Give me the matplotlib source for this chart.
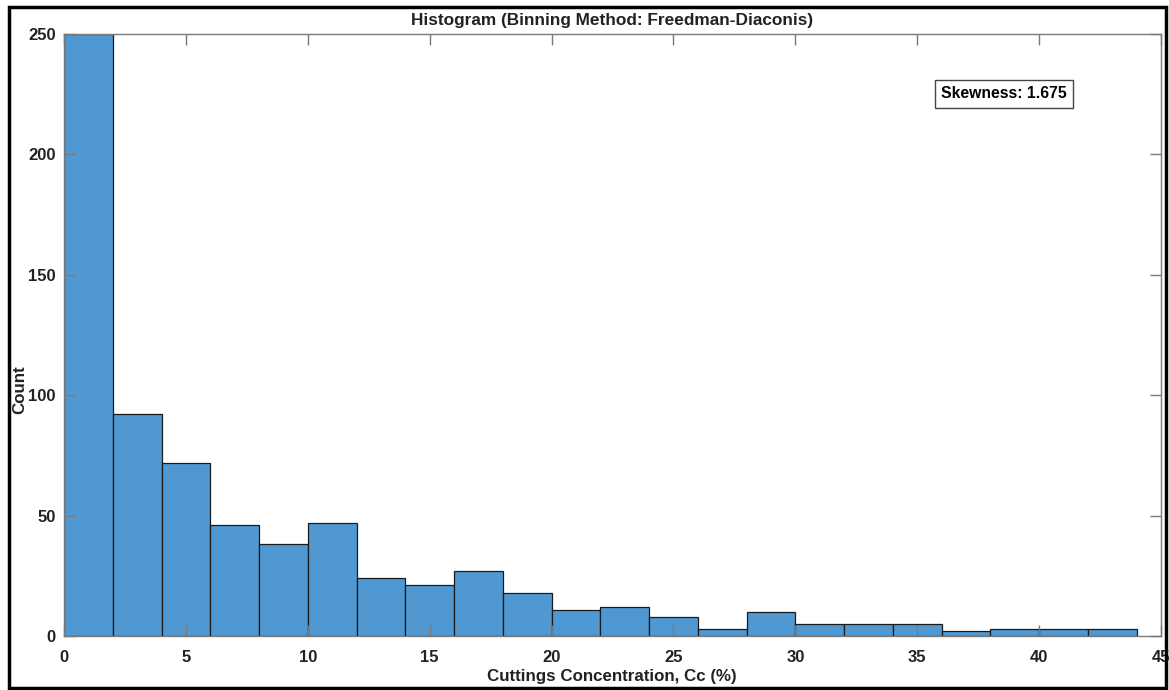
import matplotlib
matplotlib.use("Agg")
import matplotlib.pyplot as plt
from matplotlib.patches import Rectangle
import numpy as np

# Data
bin_edges = list(range(0, 46, 2))[:23]  # 0..44
counts = [250, 92, 72, 46, 38, 47, 24, 21, 27, 18, 11, 12, 8, 3, 10, 5, 5, 5, 2, 3, 3, 3]
x_ticks = [0, 5, 10, 15, 20, 25, 30, 35, 40, 45]
y_ticks = [0, 50, 100, 150, 200, 250]
title = "Histogram (Binning Method: Freedman-Diaconis)"
xlabel = "Cuttings Concentration, Cc (%)"
ylabel = "Count"
skew_text = "Skewness: 1.675"

plt.rcParams['font.family'] = ['Liberation Sans', 'DejaVu Sans']
plt.rcParams['font.weight'] = 'bold'

W, H = 1169, 690
fig = plt.figure(figsize=(W / 100, H / 100), dpi=100)
ax = fig.add_axes([64 / W, 1 - 636 / H, (1161 - 64) / W, (636 - 34) / H])

edges = np.array(bin_edges)
ax.bar(edges[:-1], counts, width=np.diff(edges), align='edge',
       color='#4F98D2', edgecolor='#1a1a1a', linewidth=0.9)

ax.set_xlim(0, 45)
ax.set_ylim(0, 250)
ax.set_xticks(x_ticks)
ax.set_yticks(y_ticks)
ax.tick_params(axis='both', direction='in', length=8, width=1, color='#7a7a7a',
               top=True, right=True, labelsize=12)
ax.tick_params(axis='x', pad=10)
ax.tick_params(axis='y', pad=6)
for lab in ax.get_xticklabels() + ax.get_yticklabels():
    lab.set_fontweight('bold')
    lab.set_color('#222222')
for s in ax.spines.values():
    s.set_color('#7a7a7a')
    s.set_linewidth(1.0)

fig.text(612 / W, 1 - 21 / H, title, ha='center', va='center', fontsize=12.4, fontweight='bold',
         color='#222222')
fig.text(612 / W, 1 - 677 / H, xlabel, ha='center', va='center', fontsize=12.2, fontweight='bold',
         color='#222222')
fig.text(20 / W, 1 - 390 / H, ylabel, ha='center', va='center', fontsize=12.2, fontweight='bold',
         rotation=90, color='#222222')

ax.text(1004 / W, 1 - 94 / H, skew_text, transform=fig.transFigure, ha='center', va='center',
        fontsize=11.3, fontweight='bold',
        bbox=dict(boxstyle='square,pad=0.4', facecolor='white', edgecolor='#444444', linewidth=1))

fig.patches.append(Rectangle((9 / W, 1 - 688 / H), (1166 - 9) / W, (688 - 7) / H,
                             transform=fig.transFigure, fill=False, edgecolor='black',
                             linewidth=2.5))

fig.savefig("out.png", dpi=100)
